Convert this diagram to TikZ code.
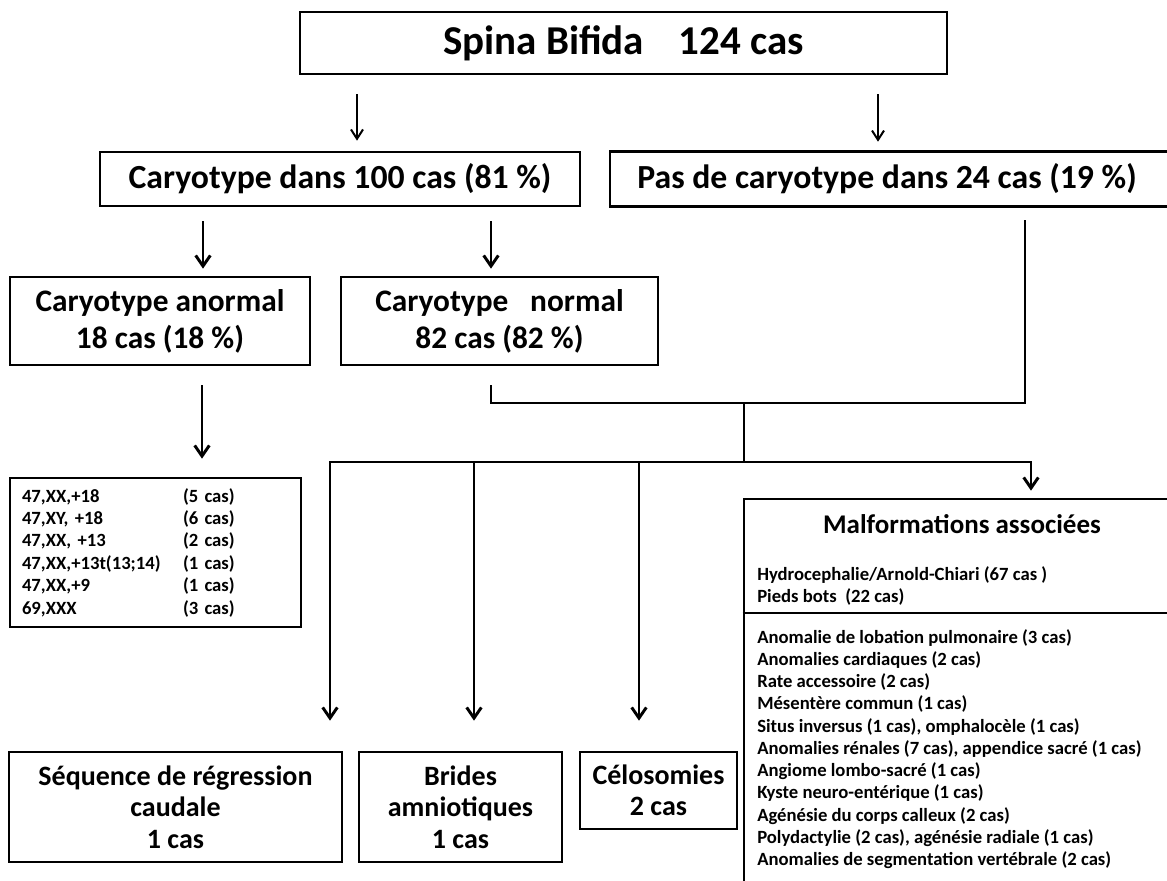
\documentclass[tikz,border=0pt]{standalone}
\usepackage{fontspec}
\setmainfont{Carlito}
\usetikzlibrary{arrows.meta}
\begin{document}
\begin{tikzpicture}[x=0.75pt,y=-0.75pt,
  box/.style={draw, line width=2pt, inner sep=0pt, align=center},
  conn/.style={line width=2.2pt},
  arr/.style={line width=2.2pt, -{Straight Barb[length=8pt,width=11pt]}},
  arrthin/.style={line width=1.5pt, -{Straight Barb[length=7pt,width=9pt]}},
  lst/.style={align=left, inner sep=0pt, font=\bfseries\fontsize{14}{16.7}\selectfont},
]
\useasboundingbox (0,0) rectangle (1167,881);
\clip (0,0) rectangle (1167,881);

% boxes
\node[box, minimum width=485.25pt, minimum height=46.5pt, font=\bfseries\fontsize{30.75}{36}\selectfont] (spina) at (623.5,43) {Spina Bifida\hspace{0.85em}124 cas};
\node[box, minimum width=360pt, minimum height=40.5pt, font=\bfseries\fontsize{25.3}{30}\selectfont] (kar) at (340,179) {Caryotype dans 100 cas (81 \%)};
\node[inner sep=0pt, minimum height=40.5pt, font=\bfseries\fontsize{25.3}{30}\selectfont] (pas) at (887,179) {Pas de caryotype dans 24 cas (19 \%)};
\coordinate (pl) at (610,0);
\coordinate (pr) at (1185,0);
\draw[line width=2pt] (pas.north -| pr) -- (pas.north -| pl) -- (pas.south -| pl) -- (pas.south -| pr);
\node[box, minimum width=225pt, minimum height=66pt, font=\bfseries\fontsize{23.5}{27.75}\selectfont] (anormal) at (160,321) {Caryotype anormal\\18 cas (18 \%)};
\node[box, minimum width=237.75pt, minimum height=66pt, font=\bfseries\fontsize{23.5}{27.75}\selectfont] (normal) at (499.5,321) {Caryotype\hspace{0.7em}normal\\82 cas (82 \%)};
\node[box, minimum width=218.25pt, minimum height=111.75pt, text width=200.25pt, align=left, font=\bfseries\fontsize{14}{16.8}\selectfont] (kl) at (155.5,552.5) {%
\makebox[120.75pt][l]{47,XX,+18}(5 cas)\\
\makebox[120.75pt][l]{47,XY, +18}(6 cas)\\
\makebox[120.75pt][l]{47,XX, +13}(2 cas)\\
\makebox[120.75pt][l]{47,XX,+13t(13;14)}(1 cas)\\
\makebox[120.75pt][l]{47,XX,+9}(1 cas)\\
\makebox[120.75pt][l]{69,XXX}(3 cas)};
\node[box, minimum width=249.75pt, minimum height=82.5pt, font=\bfseries\fontsize{21}{23.6}\selectfont] (seq) at (175.5,807) {Séquence de régression\\caudale\\1 cas};
\node[box, minimum width=152.25pt, minimum height=82.5pt, font=\bfseries\fontsize{21}{23.6}\selectfont] (brides) at (460.5,807) {Brides\\amniotiques\\1 cas};
\node[box, minimum width=117.75pt, minimum height=57.75pt, font=\bfseries\fontsize{21}{23.6}\selectfont] (celo) at (658.5,790.5) {Célosomies\\2 cas};
\node[box, minimum width=327pt, minimum height=300.75pt] (malf) at (962,699.5) {};
\coordinate (dv) at (0,613);
\draw[line width=2pt] (malf.west |- dv) -- (malf.east |- dv);
\node[font=\bfseries\fontsize{20.25}{24}\selectfont] (mt) at (962,524) {Malformations associées};
\node[lst, anchor=west] (g1) at (757,586) {Hydrocephalie/Arnold-Chiari (67 cas )\\Pieds bots\ \ (22 cas)};
\node[lst, anchor=west] (g2) at (757,749) {Anomalie de lobation pulmonaire (3 cas)\\
Anomalies cardiaques (2 cas)\\
Rate accessoire (2 cas)\\
Mésentère commun (1 cas)\\
Situs inversus (1 cas), omphalocèle (1 cas)\\
Anomalies rénales (7 cas), appendice sacré (1 cas)\\
Angiome lombo-sacré (1 cas)\\
Kyste neuro-entérique (1 cas)\\
Agénésie du corps calleux (2 cas)\\
Polydactylie (2 cas), agénésie radiale (1 cas)\\
Anomalies de segmentation vertébrale (2 cas)};

% connectors
\coordinate (c357) at (357,0);
\coordinate (c878) at (878,0);
\coordinate (c203) at (203,0);
\coordinate (c491) at (491,0);
\coordinate (c202) at (202,0);
\draw[arrthin, shorten <=14.25pt, shorten >=7.5pt] (spina.south -| c357) -- (kar.north -| c357);
\draw[arrthin, shorten <=14.25pt, shorten >=7.5pt] (spina.south -| c878) -- (pas.north -| c878);
\draw[arr, shorten <=10.5pt, shorten >=5.25pt] (kar.south -| c203) -- (anormal.north -| c203);
\draw[arr, shorten <=10.5pt, shorten >=5.25pt] (kar.south -| c491) -- (normal.north -| c491);
\draw[arr, shorten <=14.25pt, shorten >=13.5pt] (anormal.south -| c202) -- (kl.north -| c202);

\coordinate (m1) at (491,403);
\coordinate (m2) at (1025,403);
\coordinate (m3) at (744,403);
\coordinate (m4) at (744,462);
\coordinate (b1) at (330,462);
\coordinate (b2) at (474,462);
\coordinate (b3) at (639,462);
\coordinate (b4) at (1031,462);
\draw[conn, shorten <=14.25pt, shorten >=10.5pt] (normal.south -| m1) -- (m1) -- (m2) -- (pas.south -| m2);
\draw[conn] (m3) -- (m4);
\draw[arr, shorten >=22.5pt] (b4) -- (b1) -- (seq.north -| b1);
\draw[arr, shorten >=22.5pt] (b2) -- (brides.north -| b2);
\draw[arr, shorten >=22.5pt] (b3) -- (celo.north -| b3);
\draw[arr, shorten >=5.25pt] (b1) -- (b4) -- (malf.north -| b4);
\end{tikzpicture}
\end{document}
